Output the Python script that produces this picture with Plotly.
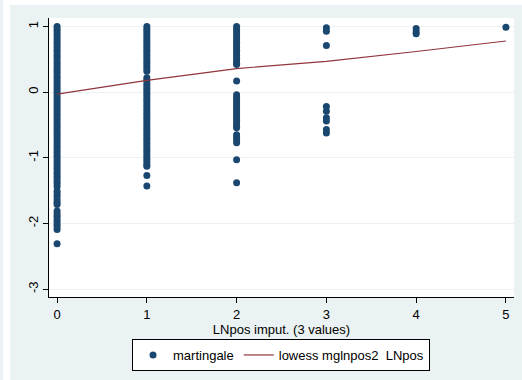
import plotly.graph_objects as go

# x categories of the scatter
x_levels = [0, 1, 2, 3, 4, 5]

# martingale values, one list per x level
y_at_0 = [1.0, 0.96, 0.92, 0.88, 0.84, 0.8, 0.76, 0.72, 0.68, 0.64, 0.6, 0.56, 0.52, 0.48,
          0.44, 0.4, 0.36, 0.32, 0.28, 0.24, 0.2, 0.16, 0.12, 0.08, 0.04, 0.0, -0.04, -0.08,
          -0.12, -0.16, -0.2, -0.24, -0.28, -0.32, -0.36, -0.4, -0.44, -0.48, -0.52, -0.56,
          -0.6, -0.64, -0.68, -0.72, -0.76, -0.8, -0.84, -0.88, -0.92, -0.96, -1.0, -1.04,
          -1.08, -1.12, -1.16, -1.2, -1.24, -1.28, -1.32, -1.36, -1.4, -1.44,
          -1.51, -1.55, -1.59, -1.64, -1.68, -1.71,
          -1.81, -1.85, -1.89, -1.93, -1.97, -2.01, -2.05, -2.09, -2.31]
y_at_1 = [1.0, 0.96, 0.92, 0.88, 0.84, 0.8, 0.76, 0.72, 0.68, 0.64, 0.6, 0.56, 0.52, 0.48,
          0.44, 0.4, 0.36, 0.32,
          0.22, 0.18, 0.14, 0.1, 0.06, 0.02, -0.02, -0.06, -0.1, -0.14, -0.18, -0.22, -0.26,
          -0.3, -0.34, -0.38, -0.42, -0.46, -0.5, -0.54, -0.58, -0.62, -0.66, -0.7, -0.74,
          -0.78, -0.82, -0.86, -0.9, -0.94, -0.98, -1.02, -1.06, -1.1, -1.13,
          -1.27, -1.43]
y_at_2 = [1.0, 0.96, 0.92, 0.88, 0.84, 0.8, 0.76, 0.72, 0.68, 0.64, 0.6, 0.56, 0.52, 0.48,
          0.44, 0.42,
          0.17,
          -0.04, -0.08, -0.12, -0.16, -0.2, -0.24, -0.28, -0.32, -0.36, -0.4, -0.44, -0.48,
          -0.52, -0.54,
          -0.65, -0.69, -0.73, -0.77,
          -1.03, -1.38]
y_at_3 = [0.98, 0.93, 0.71, -0.22, -0.29, -0.39, -0.44, -0.57, -0.62]
y_at_4 = [0.97, 0.92, 0.89]
y_at_5 = [0.99]

# lowess smooth values at each x level
lowess_y = [-0.03, 0.18, 0.36, 0.47, 0.62, 0.78]

groups = [y_at_0, y_at_1, y_at_2, y_at_3, y_at_4, y_at_5]
scatter_x = []
scatter_y = []
for xv, ys in zip(x_levels, groups):
    scatter_x += [xv] * len(ys)
    scatter_y += ys

y_ticks = [-3, -2, -1, 0, 1]
y_tick_labels = ["-3", "-2", "-1", "0", "1"]

BG = "#EAF2F3"
NAVY = "#1A476F"
MAROON = "#90353B"
FONT = "Liberation Sans, Arial, sans-serif"

fig = go.Figure()
fig.add_trace(go.Scatter(
    x=scatter_x, y=scatter_y, mode="markers", name="martingale",
    marker=dict(color=NAVY, size=7, line=dict(width=0)),
))
fig.add_trace(go.Scatter(
    x=x_levels, y=lowess_y, mode="lines", name="lowess mglnpos2\u00a0\u00a0LNpos",
    line=dict(color=MAROON, width=1.2),
))

L, R, T, B = 49, 8, 18, 83
W, H = 522, 380
pw, ph = W - L - R, H - T - B

def px_x(p):
    return (p - L) / pw

def px_y(p):
    return (H - B - p) / ph

fig.update_layout(
    width=W, height=H,
    margin=dict(l=L, r=R, t=T, b=B, pad=0),
    paper_bgcolor=BG, plot_bgcolor="white",
    font=dict(family=FONT, size=12, color="#000000"),
    showlegend=True,
    legend=dict(
        orientation="h", x=0.499, xanchor="center", y=px_y(339), yanchor="top",
        bgcolor="white", bordercolor="#000000", borderwidth=1,
        font=dict(size=13, family=FONT), itemwidth=30,
    ),
    xaxis=dict(
        range=[-0.09, 5.09], tickvals=x_levels, ticks="outside", ticklen=5,
        tickcolor="#000000", showgrid=False, zeroline=False, showline=True,
        linecolor="#000000", linewidth=1, tickfont=dict(size=13),
        title=dict(text="LNpos imput. (3 values)", font=dict(size=13), standoff=2),
    ),
    yaxis=dict(
        range=[-3.12, 1.13], tickvals=y_ticks, ticktext=y_tick_labels,
        ticks="outside", ticklen=5,
        tickcolor="#000000", showgrid=True, gridcolor=BG, gridwidth=1,
        zeroline=False, showline=True, linecolor="#000000", linewidth=1,
        tickangle=-90, tickfont=dict(size=13),
    ),
    shapes=[
        dict(type="rect", xref="paper", yref="paper", x0=px_x(3), x1=px_x(10),
             y0=px_y(380), y1=px_y(0), fillcolor="white", line=dict(width=0), layer="below"),
        dict(type="rect", xref="paper", yref="paper", x0=px_x(3), x1=px_x(522),
             y0=px_y(5), y1=px_y(0), fillcolor="white", line=dict(width=0), layer="below"),
    ],
)

fig.write_html("out.html")
